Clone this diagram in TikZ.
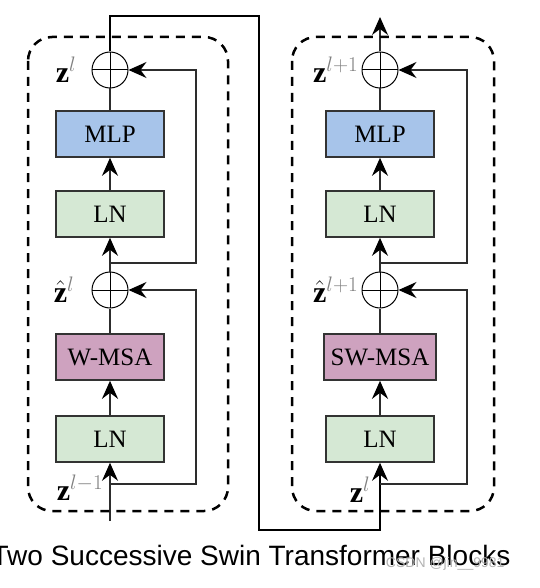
\RequirePackage{fix-cm}
\documentclass[tikz,border=0pt]{standalone}
\usepackage{fontspec}
\setmainfont{Liberation Serif}
\newfontfamily\capfont{Liberation Sans}
\usetikzlibrary{arrows.meta,calc,positioning}
\definecolor{MlpClr}{RGB}{167,196,234}
\definecolor{LnClr}{RGB}{213,232,212}
\definecolor{MsaClr}{RGB}{206,162,191}
\definecolor{LineClr}{RGB}{45,45,45}

\tikzset{
  blk/.style={draw=black!80,line width=1.6pt,minimum width=108pt,minimum height=46pt,
    inner sep=0pt,font=\fontsize{25}{28}\selectfont},
  addnode/.style={circle,draw,line width=1pt,minimum size=36pt,inner sep=0pt,
    path picture={\draw[line width=1pt]
      (path picture bounding box.west) -- (path picture bounding box.east)
      (path picture bounding box.north) -- (path picture bounding box.south);}},
  flow/.style={draw=LineClr,line width=1.6pt},
  into/.style={flow,-{Stealth[length=18pt,width=16pt,inset=6pt,black]}},
  grp/.style={draw,line width=2.5pt,dash pattern=on 9pt off 7pt,rounded corners=24pt},
  lbl/.style={font=\fontsize{30}{32}\selectfont,inner sep=1pt},
}

\begin{document}
\begin{tikzpicture}[x=1pt,y=-1pt]
\useasboundingbox (0,0) rectangle (539,588);

% first block (W-MSA)
\node[addnode] (add2) at (110,70) {};
\node[blk,fill=MlpClr] (mlp1) at (110,134) {MLP};
\node[blk,fill=LnClr] (ln2) at (110,214) {LN};
\node[addnode] (add1) at (110,290) {};
\node[blk,fill=MsaClr] (wmsa) at (110,357) {W-MSA};
\node[blk,fill=LnClr] (ln1) at (110,439) {LN};

\coordinate (in1) at (110,521);
\coordinate (br1) at (110,484);
\coordinate (br2) at (110,263);

% second block (SW-MSA)
\node[addnode] (add4) at (380,70) {};
\node[blk,fill=MlpClr] (mlp2) at (380,134) {MLP};
\node[blk,fill=LnClr] (ln4) at (380,214) {LN};
\node[addnode] (add3) at (380,290) {};
\node[blk,fill=MsaClr,minimum width=112pt] (swmsa) at (380,357) {SW-MSA};
\node[blk,fill=LnClr] (ln3) at (380,439) {LN};

\coordinate (in2) at (380,530);
\coordinate (br3) at (380,484);
\coordinate (br4) at (380,263);
\coordinate (out) at (380,17);
\coordinate (skip) at (259,16);

% labels
\node[lbl,left=14pt of add2] (zl) {$\mathbf{z}^{\color{gray}l}$};
\node[lbl,left=16pt of add1] (zhl) {$\hat{\mathbf{z}}^{\color{gray}l}$};
\node[lbl] (zlm) at (80,488) {$\mathbf{z}^{\color{gray}l-1}$};
\node[lbl,left=2pt of add4] (zlp) {$\mathbf{z}^{\color{gray}l+1}$};
\node[lbl,left=2pt of add3] (zhlp) {$\hat{\mathbf{z}}^{\color{gray}l+1}$};
\node[lbl] (zl2) at (360,490) {$\mathbf{z}^{\color{gray}l}$};

% connectors, first block
\draw[into] (in1) -- (ln1);
\draw[into,line width=2.6pt] (ln1) -- (wmsa);
\draw[flow] (wmsa) -- (add1);
\draw[into] (add1) -- (ln2);
\draw[into] (ln2) -- (mlp1);
\draw[flow] (mlp1) -- (add2);
\draw[into] (br1) -- ++(86,0) |- (add1);
\draw[into] (br2) -- ++(86,0) |- (add2);

% skip to second block
\draw[into,draw=black,line width=1.3pt] (add2) |- (skip) |- (in2) -- (ln3);

% connectors, second block
\draw[into,line width=2.6pt] (ln3) -- (swmsa);
\draw[flow] (swmsa) -- (add3);
\draw[into] (add3) -- (ln4);
\draw[into] (ln4) -- (mlp2);
\draw[flow] (mlp2) -- (add4);
\draw[into] (add4) -- (out);
\draw[into] (br3) -- ++(87,0) |- (add3);
\draw[into] (br4) -- ++(87,0) |- (add4);

% dashed groups
\draw[grp] (28,37) rectangle (228,511);
\draw[grp] (292,37) rectangle (494,511);

% caption
\node[font=\capfont\fontsize{28}{32}\selectfont,anchor=base] (cap) at (251,565)
  {Two Successive Swin Transformer Blocks};
\node[font=\capfont\fontsize{14}{16}\selectfont,text=gray!60,anchor=base east] (mark) at (508,567)
  {CSDN @jin\_\_9981};
\end{tikzpicture}
\end{document}
